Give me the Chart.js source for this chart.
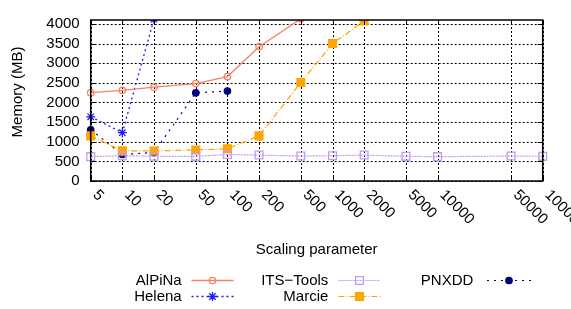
<!DOCTYPE html>
<html>
<head>
<meta charset="utf-8">
<script src="https://cdn.jsdelivr.net/npm/chart.js@4.4.1/dist/chart.umd.min.js"></script>
<style>
  body { margin: 0; background: #fff; }
  #wrap { width: 571px; height: 309px; }
</style>
</head>
<body>
<div id="wrap"><canvas id="myChart" width="571" height="309"></canvas></div>
<script>
// x values (scaling parameter) and y ticks
const scaling = [5, 10, 20, 50, 100, 200, 500, 1000, 2000, 5000, 10000, 50000, 100000];
const xTickLabels = ['5', '10', '20', '50', '100', '200', '500', '1000', '2000', '5000', '10000', '50000', '100000'];
const yTicks = [0, 500, 1000, 1500, 2000, 2500, 3000, 3500, 4000];

// memory (MB), null = no measurement
const alpina = [2250, 2310, 2390, 2480, 2660, 3420, 4130, null, null, null, null, null, null];
const helena = [1635, 1230, 4120, null, null, null, null, null, null, null, null, null, null];
const itsTools = [620, 645, 630, 628, 675, 660, 635, 645, 660, 628, 620, 635, 628];
const marcie = [1150, 770, 765, 790, 820, 1150, 2510, 3500, 4075, null, null, null, null];
const pnxdd = [1305, 675, 725, 2245, 2290, null, null, null, null, null, null, null, null];

const FONT = '"Liberation Sans", Arial, sans-serif';

function pts(arr) {
  return scaling.map((x, i) => ({ x: x, y: arr[i] }));
}

const series = [
  { label: 'AlPiNa', data: alpina, color: '#fa8060', dash: [], style: 'circle', r: 3.2, fill: false, width: 1.3 },
  { label: 'Helena', data: helena, color: '#1a1aff', dash: [2, 3], style: 'star', r: 4.5, fill: false, width: 1.3 },
  { label: 'ITS\u2212Tools', data: itsTools, color: '#c09af5', dash: [2, 1], style: 'rect', r: 5.5, fill: false, width: 1.2 },
  { label: 'Marcie', data: marcie, color: '#ffa500', dash: [6, 2, 1, 2], style: 'rect', r: 5.5, fill: true, width: 1.2 },
  { label: 'PNXDD', data: pnxdd, color: '#000080', dash: [2, 5], style: 'circle', r: 3.2, fill: true, width: 1.2 }
];

// legend slots: [text right edge, line start, line end, row y]
const legendSlots = [
  [181.7, 191.5, 233.5, 280.5],
  [181.7, 191.5, 233.5, 296.5],
  [328.3, 338.5, 380.5, 280.5],
  [328.3, 338.5, 380.5, 296.5],
  [473.3, 487, 531, 280.5]
];

function marker(ctx, s, x, y) {
  ctx.save();
  ctx.setLineDash([]);
  ctx.strokeStyle = s.color;
  ctx.fillStyle = s.fill ? s.color : 'rgba(255,255,255,0)';
  ctx.lineWidth = 1.3;
  ctx.beginPath();
  if (s.style === 'circle') {
    ctx.arc(x, y, s.r, 0, Math.PI * 2);
  } else if (s.style === 'rect') {
    const h = s.r * Math.SQRT1_2;
    ctx.rect(x - h, y - h, 2 * h, 2 * h);
  } else {
    for (let k = 0; k < 4; k++) {
      const a = k * Math.PI / 4;
      ctx.moveTo(x - Math.cos(a) * s.r, y - Math.sin(a) * s.r);
      ctx.lineTo(x + Math.cos(a) * s.r, y + Math.sin(a) * s.r);
    }
  }
  if (s.fill) ctx.fill();
  ctx.stroke();
  ctx.restore();
}

function gridPath(ctx, chart, len) {
  const a = chart.chartArea;
  const xs = chart.scales.x;
  const ys = chart.scales.y;
  ctx.beginPath();
  yTicks.forEach(v => {
    const y = Math.round(ys.getPixelForValue(v)) + 0.5;
    ctx.moveTo(a.left, y); ctx.lineTo(len ? a.left + len : a.right, y);
    if (len) { ctx.moveTo(a.right, y); ctx.lineTo(a.right - len, y); }
  });
  scaling.forEach(v => {
    const x = Math.round(xs.getPixelForValue(v)) + 0.5;
    ctx.moveTo(x, a.bottom); ctx.lineTo(x, len ? a.bottom - len : a.top);
    if (len) { ctx.moveTo(x, a.top); ctx.lineTo(x, a.top + len); }
  });
}

const decor = {
  id: 'decor',
  beforeDatasetsDraw(chart) {
    // dotted grid drawn from the scales
    const ctx = chart.ctx;
    ctx.save();
    ctx.strokeStyle = '#000';
    ctx.lineWidth = 1;
    ctx.setLineDash([2, 2]);
    gridPath(ctx, chart, 0);
    ctx.stroke();
    ctx.restore();
  },
  afterDraw(chart) {
    const ctx = chart.ctx;
    const a = chart.chartArea;
    const xs = chart.scales.x;
    ctx.save();
    // inward tick marks
    ctx.strokeStyle = '#000';
    ctx.lineWidth = 1;
    ctx.setLineDash([]);
    gridPath(ctx, chart, 5);
    ctx.stroke();
    // border
    ctx.lineWidth = 1.5;
    ctx.strokeRect(a.left, a.top, a.right - a.left, a.bottom - a.top);

    // rotated x tick labels
    ctx.fillStyle = '#000';
    ctx.font = '15px ' + FONT;
    ctx.textAlign = 'left';
    ctx.textBaseline = 'middle';
    scaling.forEach((v, i) => {
      const x = xs.getPixelForValue(v);
      ctx.save();
      ctx.translate(x + 4.5, a.bottom + 11.5);
      ctx.rotate(Math.PI / 4);
      ctx.fillText(xTickLabels[i], 0, 0);
      ctx.restore();
    });

    // axis titles
    ctx.textAlign = 'center';
    ctx.fillText('Scaling parameter', (a.left + a.right) / 2, 250);
    ctx.save();
    ctx.translate(18, 92);
    ctx.rotate(-Math.PI / 2);
    ctx.fillText('Memory (MB)', 0, 0);
    ctx.restore();

    // legend
    series.forEach((s, i) => {
      const [tr, l0, l1, ry] = legendSlots[i];
      ctx.fillStyle = '#000';
      ctx.textAlign = 'right';
      ctx.fillText(s.label, tr, ry);
      ctx.strokeStyle = s.color;
      ctx.lineWidth = s.width;
      ctx.setLineDash(s.dash);
      ctx.beginPath();
      ctx.moveTo(l0, ry); ctx.lineTo(l1, ry);
      ctx.stroke();
      ctx.setLineDash([]);
      marker(ctx, s, (l0 + l1) / 2, ry);
    });
    ctx.restore();
  }
};

new Chart(document.getElementById('myChart'), {
  type: 'line',
  data: {
    datasets: series.map(s => ({
      label: s.label,
      data: pts(s.data),
      borderColor: s.color,
      backgroundColor: s.fill ? s.color : 'rgba(255,255,255,0)',
      borderWidth: s.width,
      borderDash: s.dash,
      pointStyle: s.style,
      pointRadius: s.r,
      pointBorderWidth: 1.3,
      pointBorderColor: s.color,
      pointBackgroundColor: s.fill ? s.color : 'rgba(255,255,255,0)',
      spanGaps: false,
      tension: 0,
      clip: { left: 8, right: 8, top: 0, bottom: 8 }
    }))
  },
  options: {
    responsive: false,
    animation: false,
    events: [],
    layout: { padding: { left: 0, top: 10.7, right: 28.3, bottom: 0 } },
    plugins: { legend: { display: false }, tooltip: { enabled: false } },
    scales: {
      x: {
        type: 'logarithmic',
        min: 5,
        max: 100000,
        afterBuildTicks: (scale) => { scale.ticks = scaling.map(v => ({ value: v })); },
        afterFit: (scale) => { scale.height = 128; },
        ticks: { display: false, autoSkip: false },
        grid: { display: false },
        border: { display: false }
      },
      y: {
        min: 0,
        max: 4100,
        afterBuildTicks: (scale) => { scale.ticks = yTicks.map(v => ({ value: v })); },
        afterFit: (scale) => { scale.width = 90.7; },
        ticks: {
          autoSkip: false,
          padding: 11,
          color: '#000',
          font: { family: FONT, size: 15 },
          callback: (v) => String(v)
        },
        grid: { display: false, drawTicks: false },
        border: { display: false }
      }
    }
  },
  plugins: [decor]
});
</script>
</body>
</html>
